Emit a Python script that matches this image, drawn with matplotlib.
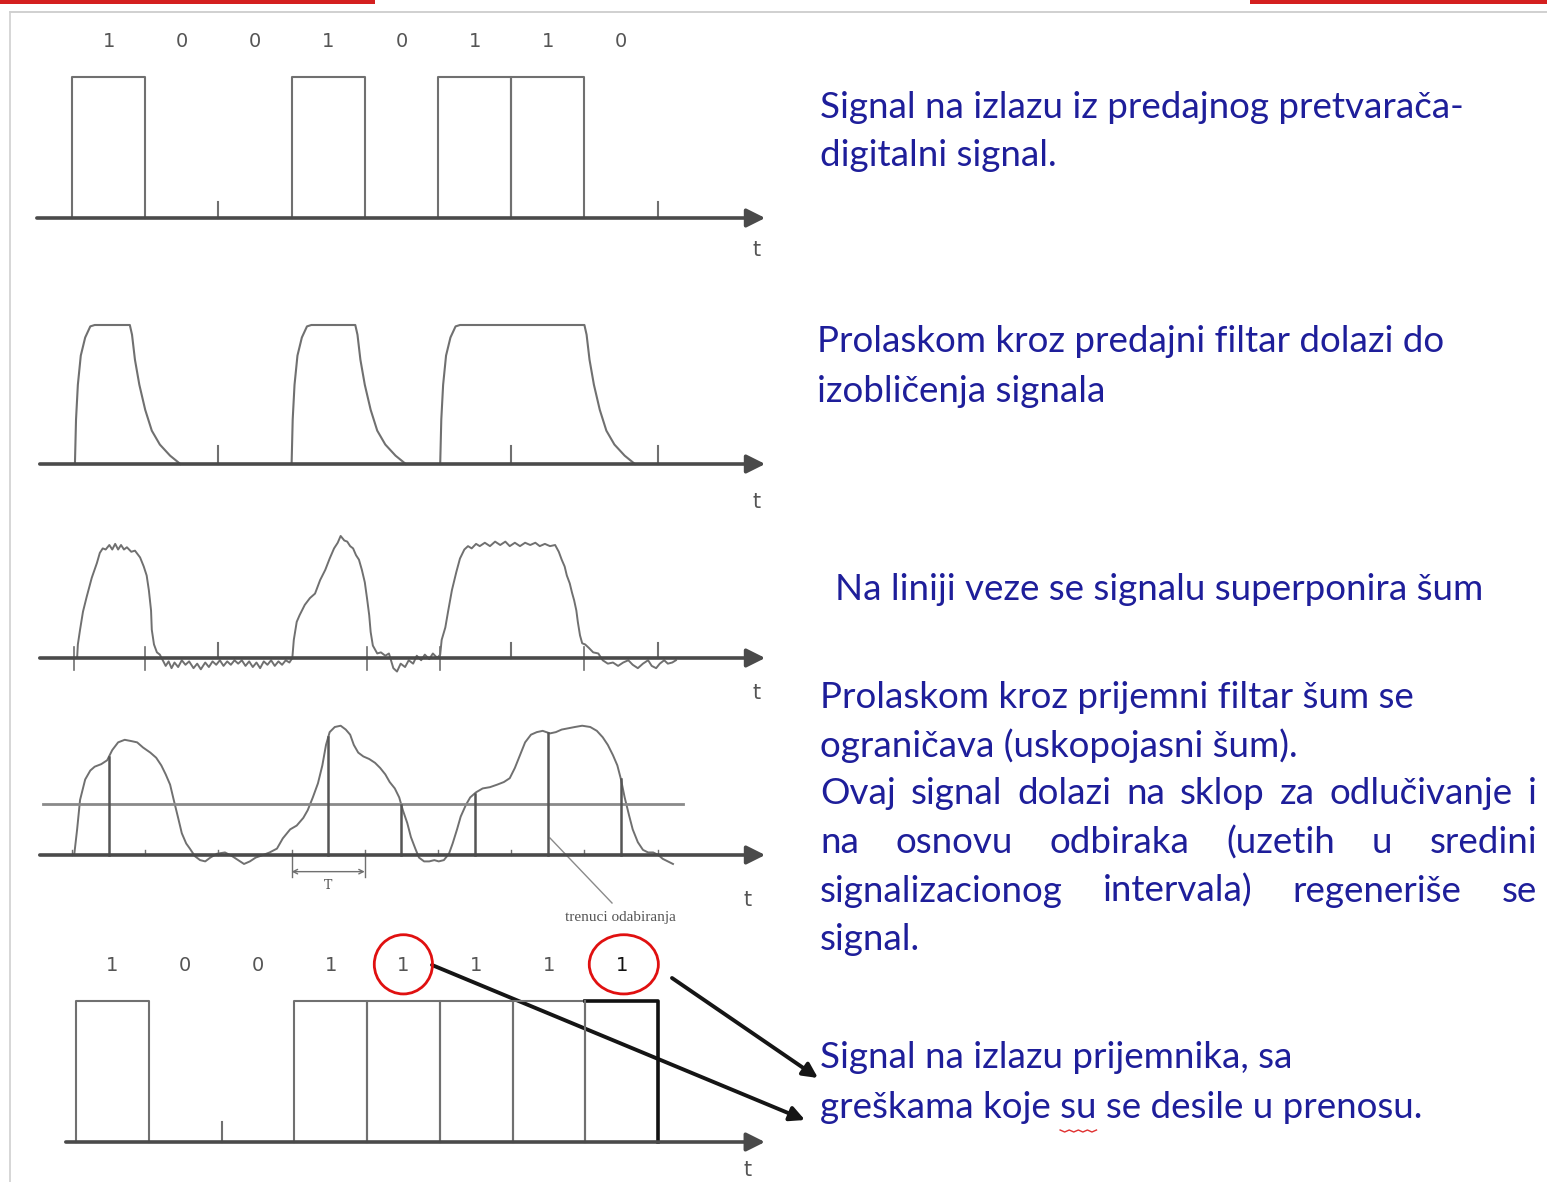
import numpy as np
import matplotlib
matplotlib.use("Agg")
from matplotlib import pyplot as plt
from matplotlib.patches import Ellipse

# Figure size in pixels
W, H = 1547, 1182

# Bit sequences
bits_tx = [1, 0, 0, 1, 0, 1, 1, 0]
bits_rx = [1, 0, 0, 1, 1, 1, 1, 1]
wrong_bits = [4, 7]

# Filtered signal (row 2): pulse start / fall start (bit periods) and template shape
filt_start = [0.04, 3.0, 5.03]
filt_fall = [0.79, 3.87, 7.0]
rise_dt = [0, 0.015, 0.04, 0.08, 0.14, 0.21, 0.27]
rise_h = [0, 0.32, 0.57, 0.78, 0.91, 0.99, 1.0]
fall_dt = [0, 0.03, 0.07, 0.13, 0.21, 0.30, 0.41, 0.55, 0.69]
fall_h = [1.0, 0.93, 0.75, 0.57, 0.39, 0.24, 0.14, 0.06, 0.0]

# Noisy line signal (row 3)
noisy_t = [0.07, 0.08, 0.11, 0.15, 0.20, 0.27, 0.34, 0.38, 0.42, 0.46, 0.51, 0.55, 0.59, 0.63,
           0.67, 0.71, 0.75, 0.81, 0.86, 0.93, 0.98, 1.02, 1.05, 1.08, 1.09, 1.12, 1.16, 1.20,
           1.24, 1.28, 1.32, 1.36, 1.40, 1.45, 1.50, 1.55, 1.60, 1.66, 1.71, 1.76, 1.82, 1.87,
           1.92, 1.97, 2.02, 2.07, 2.12, 2.17, 2.22, 2.27, 2.32, 2.37, 2.42, 2.47, 2.52, 2.57,
           2.62, 2.67, 2.72, 2.77, 2.82, 2.87, 2.92, 2.97,
           3.01, 3.03, 3.07, 3.11, 3.18, 3.25, 3.32, 3.39, 3.46, 3.52, 3.58, 3.63, 3.67, 3.72,
           3.76, 3.80, 3.84, 3.88, 3.92, 3.96, 4.00, 4.03, 4.06, 4.08, 4.11, 4.17, 4.22, 4.28,
           4.33, 4.39, 4.44, 4.49, 4.55, 4.60, 4.66, 4.71, 4.77, 4.82, 4.88, 4.93, 4.99,
           5.03, 5.05, 5.10, 5.14, 5.19, 5.25, 5.30, 5.36, 5.41, 5.46, 5.52, 5.57, 5.64, 5.71,
           5.78, 5.85, 5.92, 5.98, 6.05, 6.12, 6.19, 6.26, 6.33, 6.39, 6.46, 6.53, 6.60, 6.65,
           6.69, 6.73, 6.76, 6.80, 6.83, 6.86, 6.89, 6.91, 6.94, 6.97, 7.01, 7.06, 7.12, 7.19,
           7.25, 7.32, 7.39, 7.46, 7.53, 7.60, 7.66, 7.73, 7.80, 7.87, 7.92, 7.98, 8.03, 8.09,
           8.14, 8.20, 8.25]
noisy_v = [0, 0.12, 0.25, 0.41, 0.54, 0.71, 0.84, 0.93, 0.97, 0.96, 1.0, 0.96, 1.01, 0.96,
           1.0, 0.96, 0.98, 0.94, 0.95, 0.89, 0.81, 0.73, 0.60, 0.42, 0.25, 0.12, 0.05, 0.03,
           -0.02, -0.07, -0.03, -0.09, -0.04, -0.08, -0.02, -0.06, -0.03, -0.09, -0.05, -0.10,
           -0.04, -0.08, -0.03, -0.06, -0.02, -0.07, -0.03, -0.06, -0.02, -0.05, -0.02, -0.07,
           -0.03, -0.08, -0.04, -0.09, -0.03, -0.06, -0.02, -0.07, -0.03, -0.06, -0.02, -0.04,
           0, 0.16, 0.32, 0.38, 0.47, 0.53, 0.57, 0.69, 0.78, 0.88, 0.97, 1.02, 1.08, 1.04,
           1.03, 0.99, 0.97, 0.91, 0.87, 0.78, 0.67, 0.53, 0.38, 0.23, 0.11, 0.04, 0.05, 0.02,
           0.04, -0.09, -0.12, -0.05, -0.08, -0.02, -0.05, 0.02, -0.02, 0.03, -0.01, 0.04, 0,
           0.03, 0.16, 0.27, 0.42, 0.60, 0.76, 0.88, 0.96, 0.99, 0.97, 1.01, 0.99, 1.02, 0.99,
           1.03, 1.0, 1.03, 0.99, 1.02, 0.99, 1.02, 1.0, 1.02, 0.99, 1.01, 0.99, 1.0, 0.94,
           0.87, 0.81, 0.73, 0.66, 0.58, 0.51, 0.42, 0.32, 0.20, 0.13, 0.12, 0.09, 0.05, 0.04,
           -0.02, -0.05, -0.04, -0.07, -0.04, -0.02, -0.06, -0.09, -0.05, -0.02, -0.07, -0.09,
           -0.05, -0.02, -0.05, -0.04, -0.02]
noisy_marks = [0.03, 1.0, 4.03, 5.03, 7.0]

# Receive-filtered signal (row 4)
rxf_t = [0.03, 0.07, 0.11, 0.18, 0.25, 0.31, 0.40, 0.48, 0.55, 0.63, 0.72, 0.81, 0.89, 0.97,
         1.07, 1.15, 1.22, 1.28, 1.34, 1.39, 1.45, 1.50, 1.56, 1.61, 1.68, 1.75, 1.82, 1.89,
         1.98, 2.09, 2.19, 2.27, 2.35, 2.43, 2.51, 2.61, 2.70, 2.80, 2.88, 2.98, 3.07, 3.16,
         3.22, 3.29, 3.36, 3.42, 3.47, 3.52, 3.59, 3.67, 3.74, 3.80, 3.85, 3.91, 3.98, 4.06,
         4.14, 4.21, 4.28, 4.34, 4.41, 4.47, 4.52, 4.58, 4.63, 4.69, 4.74, 4.81, 4.88, 4.95,
         5.01, 5.08, 5.15, 5.20, 5.26, 5.31, 5.38, 5.44, 5.52, 5.61, 5.71, 5.81, 5.90, 5.98,
         6.05, 6.12, 6.19, 6.27, 6.35, 6.43, 6.53, 6.61, 6.69, 6.78, 6.87, 6.97, 7.08, 7.17,
         7.25, 7.32, 7.39, 7.45, 7.50, 7.55, 7.61, 7.66, 7.73, 7.80, 7.87, 7.94, 8.01, 8.07,
         8.14, 8.21]
rxf_v = [0, 0.20, 0.43, 0.59, 0.66, 0.69, 0.71, 0.74, 0.82, 0.88, 0.90, 0.89, 0.88, 0.84,
         0.80, 0.76, 0.70, 0.63, 0.55, 0.43, 0.29, 0.17, 0.09, 0.05, -0.01, -0.04, -0.05, -0.02,
         0.01, 0.02, -0.01, -0.04, -0.07, -0.05, -0.02, 0, 0.02, 0.05, 0.13, 0.20, 0.23, 0.29,
         0.35, 0.45, 0.56, 0.70, 0.86, 0.96, 1.0, 1.01, 0.98, 0.94, 0.86, 0.80, 0.77, 0.75,
         0.72, 0.68, 0.63, 0.57, 0.52, 0.45, 0.35, 0.25, 0.14, 0.05, -0.02, -0.05, -0.05, -0.04,
         -0.05, -0.04, 0.01, 0.09, 0.20, 0.30, 0.39, 0.45, 0.49, 0.52, 0.53, 0.55, 0.57, 0.60,
         0.68, 0.78, 0.88, 0.94, 0.96, 0.97, 0.95, 0.96, 0.98, 0.99, 1.0, 1.01, 1.0, 0.97,
         0.92, 0.86, 0.78, 0.70, 0.59, 0.45, 0.31, 0.20, 0.10, 0.04, 0.02, 0.02, 0, -0.03,
         -0.05, -0.07]
threshold = 0.4
sample_t = [0.5, 3.5, 4.5, 5.5, 6.5, 7.5]

# Right-hand descriptions
txt_tx = ["Signal na izlazu iz predajnog pretvarača-", "digitalni signal."]
txt_filter = ["Prolaskom kroz predajni filtar dolazi do", "izobličenja signala"]
txt_noise = ["Na liniji veze se signalu superponira šum"]
txt_rx = ["Prolaskom kroz prijemni filtar šum se", "ograničava (uskopojasni šum)."]
txt_rx_just = ["Ovaj signal dolazi na sklop za odlučivanje i",
               "na osnovu odbiraka (uzetih u sredini",
               "signalizacionog intervala) regeneriše se"]
txt_rx_end = "signal."
txt_out = ["Signal na izlazu prijemnika, sa", "greškama koje su se desile u prenosu."]

WAVE = "#707070"
AXC = "#4a4a4a"
BLUE = "#1e1e9a"

fig = plt.figure(figsize=(W / 100, H / 100), dpi=100)
fig.patch.set_facecolor("white")

# pixel-space overlay
axp = fig.add_axes([0, 0, 1, 1])
axp.set_xlim(0, W)
axp.set_ylim(H, 0)
axp.set_axis_off()
axp.patch.set_alpha(0)


def row_axes(x0, period, y_axis, y_top):
    ax = fig.add_axes([0, 0, 1, 1])
    ax.set_axis_off()
    ax.patch.set_alpha(0)
    ax.set_xlim(-x0 / period, (W - x0) / period)
    s = y_axis - y_top
    ax.set_ylim((y_axis - H) / s, y_axis / s)
    return ax


def time_axis(ax, start, end, ticks=(), tick_h=0.1):
    ax.annotate("", xy=(end, 0), xytext=(start, 0),
                arrowprops=dict(arrowstyle="-|>", lw=2.6, color=AXC, mutation_scale=28,
                                shrinkA=0, shrinkB=0))
    for t in ticks:
        ax.plot([t, t], [0, tick_h], color=WAVE, lw=1.5)


def boxes(ax, bits, color=WAVE, lw=1.5):
    for i, b in enumerate(bits):
        if b:
            ax.plot([i, i, i + 1, i + 1], [0, 1, 1, 0], color=color, lw=lw)


def bit_labels(ax, bits, y):
    for i, b in enumerate(bits):
        ax.text(i + 0.5, y, str(b), ha="center", va="center", fontsize=14, color="#555555")


# Row 1: transmitted digital signal
ax1 = row_axes(72, 73.2, 218, 77)
boxes(ax1, bits_tx)
time_axis(ax1, -0.48, 9.47, ticks=[2, 8], tick_h=0.11)
bit_labels(ax1, bits_tx, 1.25)

# Row 2: after transmit filter
ax2 = row_axes(72, 73.2, 464, 325)
for s0, f0 in zip(filt_start, filt_fall):
    xs = [s0 + d for d in rise_dt] + [f0 + d for d in fall_dt]
    ys = rise_h + fall_h
    ax2.plot(xs, ys, color=WAVE, lw=1.5)
time_axis(ax2, -0.44, 9.47, ticks=[2, 6, 8], tick_h=0.13)

# Row 3: noise on the line
ax3 = row_axes(72, 73.2, 658, 545)
ax3.plot(noisy_t, noisy_v, color=WAVE, lw=1.4)
for t in noisy_marks:
    ax3.plot([t, t], [-0.11, 0.1], color=WAVE, lw=1.2)
time_axis(ax3, -0.44, 9.47, ticks=[2, 6, 8], tick_h=0.13)

# Row 4: after receive filter, sampling
ax4 = row_axes(72, 73.2, 855, 727)
ax4.plot(rxf_t, rxf_v, color=WAVE, lw=1.4)
ax4.plot([-0.4, 8.35], [threshold, threshold], color="#8a8a8a", lw=2)
for t in sample_t:
    ax4.plot([t, t], [0, np.interp(t, rxf_t, rxf_v)], color="#555555", lw=1.8)
for t in range(9):
    ax4.plot([t, t], [0, 0.04], color=WAVE, lw=1)
time_axis(ax4, -0.44, 9.47)
ax4.plot([3, 3], [0, -0.17], color=WAVE, lw=1)
ax4.plot([4, 4], [0, -0.17], color=WAVE, lw=1)
ax4.annotate("", xy=(4, -0.13), xytext=(3, -0.13),
             arrowprops=dict(arrowstyle="<->", lw=1, color=WAVE, mutation_scale=8,
                             shrinkA=0, shrinkB=0))
ax4.text(3.5, -0.24, "T", ha="center", va="center", fontsize=9, color="#555555",
         family="DejaVu Serif")

# annotation "trenuci odabiranja"
axp.plot([550, 612], [838, 903], color="#8a8a8a", lw=1)
axp.text(620, 917, "trenuci odabiranja", ha="center", va="center", fontsize=11,
         color="#555555", family="Liberation Serif")

# Row 5: regenerated signal with errors
ax5 = row_axes(76, 72.75, 1142, 1001)
boxes(ax5, bits_rx[:-1])
ax5.plot([7, 8, 8], [1, 1, 0], color="#111111", lw=2.6)
ax5.plot([7, 7], [0, 1], color=WAVE, lw=1.5)
time_axis(ax5, -0.14, 9.47, ticks=[2], tick_h=0.14)
for i, b in enumerate(bits_rx):
    ax5.text(i + 0.5, 1.25, str(b), ha="center", va="center", fontsize=14,
             color="#111111" if i == 7 else "#555555")
for i in wrong_bits:
    ax5.add_patch(Ellipse((i + 0.5 + 0.03 * (i == 7), 1.26), 0.8 + 0.15 * (i == 7), 0.42,
                          fill=False, edgecolor="#e01010", lw=2))

# "t" labels
for x, y in [(757, 250), (757, 502), (757, 693), (748, 900), (748, 1170)]:
    axp.text(x, y, "t", ha="center", va="center", fontsize=15, color="#555555")

# arrows to the last caption
axp.annotate("", xy=(805, 1120), xytext=(432, 965),
             arrowprops=dict(arrowstyle="-|>", lw=2.8, color="#151515", mutation_scale=22,
                             shrinkA=0, shrinkB=0))
axp.annotate("", xy=(818, 1078), xytext=(672, 978),
             arrowprops=dict(arrowstyle="-|>", lw=2.8, color="#151515", mutation_scale=22,
                             shrinkA=0, shrinkB=0))

# frame lines and red strips on top
axp.plot([10, W], [12, 12], color="#c8c8c8", lw=1.2)
axp.plot([10, 10], [12, H], color="#d0d0d0", lw=1.2)
axp.fill_between([0, 375], [0, 0], [4, 4], color="#d42020", lw=0)
axp.fill_between([1250, W], [0, 0], [4, 4], color="#d42020", lw=0)

# right-hand text
font = dict(fontsize=26.5, color=BLUE, family="Lato", va="center")
renderer = fig.canvas.get_renderer()


def lines(x, y0, rows, step=49):
    for k, r in enumerate(rows):
        axp.text(x, y0 + k * step, r, **font)


def justified(words, x0, x1, y):
    arts = [axp.text(0, y, w, **font) for w in words]
    widths = [a.get_window_extent(renderer).width for a in arts]
    gap = (x1 - x0 - sum(widths)) / (len(words) - 1)
    x = x0
    for a, w in zip(arts, widths):
        a.set_x(x)
        x += w + gap


lines(820, 107, txt_tx)
lines(817, 342, txt_filter)
lines(835, 590, txt_noise)
lines(820, 698, txt_rx, step=48)
for k, r in enumerate(txt_rx_just):
    justified(r.split(), 820, 1537, 794 + k * 48.5)
axp.text(820, 940, txt_rx_end, **font)
lines(820, 1058, txt_out, step=50)

# red spell-check squiggle under "su"
last = txt_out[1]
pre = axp.text(0, 0, last[:last.index(" su ") + 1], **font)
word = axp.text(0, 0, "su", **font)
sx = 820 + pre.get_window_extent(renderer).width
sw = word.get_window_extent(renderer).width
pre.remove()
word.remove()
zx = np.linspace(sx, sx + sw, 9)
axp.plot(zx, [1130 + 2 * (k % 2) for k in range(9)], color="#e03030", lw=1)

fig.savefig("out.png", dpi=100, facecolor="white")
